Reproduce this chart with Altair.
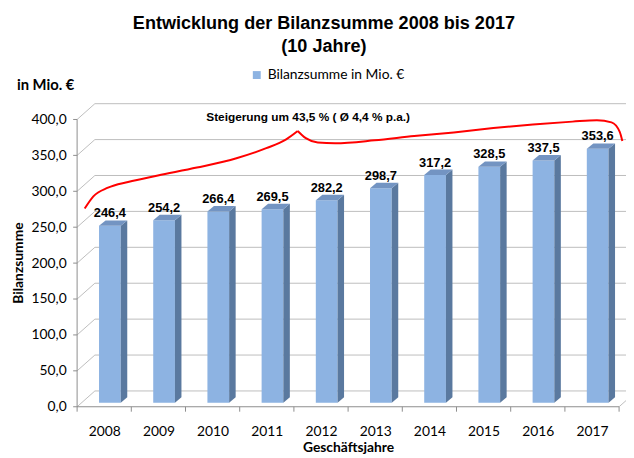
import altair as alt
import pandas as pd

# ---------------- data ----------------
YEARS = ["2008", "2009", "2010", "2011", "2012", "2013", "2014", "2015", "2016", "2017"]
VALUES = [246.4, 254.2, 266.4, 269.5, 282.2, 298.7, 317.2, 328.5, 337.5, 353.6]
Y_TICKS = [0, 50, 100, 150, 200, 250, 300, 350, 400]
SERIES = "Bilanzsumme in Mio. €"
TITLE_1 = "Entwicklung der Bilanzsumme 2008 bis 2017"
TITLE_2 = "(10 Jahre)"
UNIT_LABEL = "in Mio. €"
ANNOTATION = "Steigerung um 43,5 % ( Ø 4,4 % p.a.)"
X_TITLE = "Geschäftsjahre"
Y_TITLE = "Bilanzsumme"
# red brace (annotation), in category units / value units; two arms meeting at the tip
BRACE_LEFT_X = [0.14, 0.30, 0.57, 0.94, 1.49, 2.21, 2.94, 3.49, 3.85, 4.07]
BRACE_LEFT_Y = [276, 293, 305, 313, 322, 333, 346, 360, 372, 384]
BRACE_RIGHT_X = [4.07, 4.22, 4.44, 4.76, 5.49, 6.22, 6.95, 7.68, 8.41, 9.14, 9.59, 9.86, 10.01, 10.06]
BRACE_RIGHT_Y = [384, 374, 368, 367, 371, 377, 382, 388, 393, 397, 399, 396, 383, 370]

# ---------------- geometry (pixels -> data units) ----------------
N = len(YEARS)
W, H = 549, 291
YMAX = 400
PXB = W / N
PXU = H / YMAX


def bx(px):
    return px / PXB


def uy(px):
    return px / PXU


WALL_DX, WALL_DY = bx(18), uy(16)
BAR_X0, BAR_W = bx(22.2), bx(22)
BAR_LIFT = uy(4)
BAR_DX, BAR_DY = bx(6.6), uy(5.5)

FRONT = "#8DB3E2"
SIDE = "#5A799F"
TOP = "#7394C2"
GRID = "#BDBDBD"
AXIS = "#8C8C8C"

xs = alt.Scale(domain=[0, N], nice=False, zero=False)
ys = alt.Scale(domain=[0, YMAX], nice=False, zero=False)

label_arr = "[" + ",".join("'" + y + "'" for y in YEARS) + "]"

X_AX = alt.Axis(
    values=[k + 0.5 for k in range(N)],
    labelExpr=f"{label_arr}[floor(datum.value)]",
    domain=False, ticks=False, grid=False, labelPadding=18,
    labelFont="Lato", labelFontSize=14, labelColor="#000000",
    title=X_TITLE, titleFont="Lato", titleFontSize=14, titleFontWeight="bold",
    titleColor="#000000", titleBaseline="alphabetic", titleY=45)
Y_AX = alt.Axis(
    values=Y_TICKS,
    labelExpr="replace(format(datum.value, '.1f'), '.', ',')",
    domain=False, ticks=False, grid=False, labelPadding=11,
    labelFont="Lato", labelFontSize=14, labelColor="#000000",
    title=Y_TITLE, titleFont="Lato", titleFontSize=14, titleFontWeight="bold",
    titleColor="#000000", titleAngle=270, titleBaseline="middle",
    titleAlign="center", titleX=-59, titleY=145)


def X(f):
    return alt.X(f, scale=xs, axis=X_AX)


def Y(f):
    return alt.Y(f, scale=ys, axis=Y_AX)


# tables
front = pd.DataFrame({
    "i": list(range(N)),
    "year": YEARS,
    "value": VALUES,
    "series": [SERIES] * N,
})
front["x0"] = front["i"] + BAR_X0
front["x1"] = front["x0"] + BAR_W
front["y0"] = BAR_LIFT
front["y1"] = front["value"] + BAR_LIFT
front["xc"] = front["x0"] + BAR_W / 2
front["label"] = [f"{v:.1f}".replace(".", ",") for v in VALUES]

side_rows, top_rows = [], []
for _, r in front.iterrows():
    side_rows += [
        {"i": r.i, "x": r.x1, "lo": r.y0, "hi": r.y1},
        {"i": r.i, "x": r.x1 + BAR_DX, "lo": r.y0 + BAR_DY, "hi": r.y1 + BAR_DY},
    ]
    top_rows += [
        {"i": r.i, "x": r.x0, "lo": r.y1, "hi": r.y1},
        {"i": r.i, "x": r.x0 + BAR_DX, "lo": r.y1, "hi": r.y1 + BAR_DY},
        {"i": r.i, "x": r.x1, "lo": r.y1, "hi": r.y1 + BAR_DY},
        {"i": r.i, "x": r.x1 + BAR_DX, "lo": r.y1 + BAR_DY, "hi": r.y1 + BAR_DY},
    ]
side = pd.DataFrame(side_rows)
top = pd.DataFrame(top_rows)

ticks = pd.DataFrame({"t": Y_TICKS})
ticks["tb"] = ticks["t"] + WALL_DY
ticks["xa"] = 0.0
ticks["xb"] = WALL_DX
ticks["xe"] = N + WALL_DX
ticks["xt"] = -bx(4)

xt = pd.DataFrame({"b": list(range(N + 1))})
xt["y0"] = 0.0
xt["y1"] = -uy(5)

frame = pd.DataFrame({"x0": [0.0], "xn": [float(N)], "xnb": [N + WALL_DX],
                      "y0": [0.0], "yb": [WALL_DY], "ytop": [float(YMAX)]})

brace = pd.concat([
    pd.DataFrame({"x": BRACE_LEFT_X, "y": BRACE_LEFT_Y, "arm": "L"}),
    pd.DataFrame({"x": BRACE_RIGHT_X, "y": BRACE_RIGHT_Y, "arm": "R"}),
], ignore_index=True)

# back wall gridlines
back = alt.Chart(ticks).mark_rule(color=GRID, strokeWidth=1).encode(
    x=X("xb:Q"), x2="xe:Q", y=Y("tb:Q"))
# side wall slants
slant = alt.Chart(ticks).mark_rule(color=GRID, strokeWidth=1).encode(
    x=X("xa:Q"), x2="xb:Q", y=Y("t:Q"), y2="tb:Q")
# floor right slant
floor_r = alt.Chart(frame).mark_rule(color=GRID, strokeWidth=1).encode(
    x=X("xn:Q"), x2="xnb:Q", y=Y("y0:Q"), y2="yb:Q")
# front axis lines
xline = alt.Chart(frame).mark_rule(color=AXIS, strokeWidth=1).encode(
    x=X("x0:Q"), x2="xn:Q", y=Y("y0:Q"))
yline = alt.Chart(frame).mark_rule(color=AXIS, strokeWidth=1).encode(
    x=X("x0:Q"), y=Y("y0:Q"), y2="ytop:Q")
yticks = alt.Chart(ticks).mark_rule(color=AXIS, strokeWidth=1).encode(
    x=X("xt:Q"), x2="xa:Q", y=Y("t:Q"))
xticks = alt.Chart(xt).mark_rule(color=AXIS, strokeWidth=1).encode(
    x=X("b:Q"), y=Y("y0:Q"), y2="y1:Q")

bars = alt.Chart(front).mark_rect(stroke=None).encode(
    x=X("x0:Q"), x2="x1:Q", y=Y("y0:Q"), y2="y1:Q",
    color=alt.Color("series:N", scale=alt.Scale(range=[FRONT]), legend=alt.Legend(
        orient="none", legendX=175, legendY=-52, title=None, symbolType="square",
        symbolSize=64, symbolStrokeWidth=0, labelFont="Lato", labelFontSize=14,
        labelColor="#000000", labelOffset=4, padding=0)),
)

sides = alt.Chart(side).mark_area(color=SIDE, interpolate="linear").encode(
    x=X("x:Q"), y=Y("hi:Q"), y2="lo:Q", detail="i:N")
tops = alt.Chart(top).mark_area(color=TOP, interpolate="linear").encode(
    x=X("x:Q"), y=Y("hi:Q"), y2="lo:Q", detail="i:N")

values_txt = alt.Chart(front).mark_text(
    font="Liberation Sans", fontSize=13, fontWeight="bold", color="#000000",
    baseline="alphabetic", align="center", dy=-8.5).encode(
    x=X("xc:Q"), y=Y("y1:Q"), text="label:N")

brace_line = alt.Chart(brace).mark_line(
    color="#FF0000", strokeWidth=2, interpolate="monotone").encode(
    x=X("x:Q"), y=Y("y:Q"), detail="arm:N")

one = pd.DataFrame({"a": [0]})


def label(text, px, py, size, weight, font, align="center"):
    return alt.Chart(one).mark_text(
        text=text, font=font, fontSize=size, fontWeight=weight, color="#000000",
        align=align, baseline="alphabetic").encode(
        x=alt.value(px - 78), y=alt.value(py - 118))


t1 = label(TITLE_1, 328, 26.5, 18.3, "bold", "Liberation Sans")
t2 = label(TITLE_2, 328, 49.5, 18.3, "bold", "Liberation Sans")
unit = label(UNIT_LABEL, 17, 88, 15, "bold", "Lato", align="left")
ann = label(ANNOTATION, 312, 120, 12, "bold", "Liberation Sans")

chart = alt.layer(
    back, slant, floor_r, xline, yline, yticks, xticks,
    bars, sides, tops, values_txt, brace_line, t1, t2, unit, ann,
).properties(
    width=W, height=H,
    padding={"left": 70, "top": 110, "right": 7, "bottom": 49},
    autosize=alt.AutoSizeParams(type="none"),
).configure_view(stroke=None)

chart.save("out.html", embed_options={"renderer": "svg", "actions": False})
